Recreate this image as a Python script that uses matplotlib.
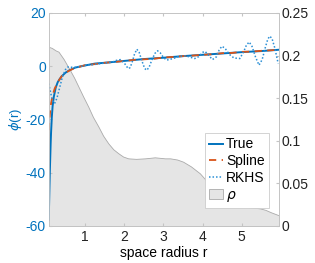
import matplotlib
matplotlib.use("Agg")
import matplotlib.pyplot as plt
from matplotlib.patches import Patch
from matplotlib.lines import Line2D

plt.rcParams['font.family'] = ['Liberation Sans', 'DejaVu Sans']
plt.rcParams['axes.unicode_minus'] = False
plt.rcParams['mathtext.fontset'] = 'dejavusans'

# rho (right axis)
rho_r = [0.065, 0.15, 0.25, 0.32, 0.45, 0.62, 0.72, 0.83, 0.95, 1.08, 1.2, 1.34, 1.46, 1.59,
         1.72, 1.85, 1.97, 2.10, 2.3, 2.53, 2.78, 3.04, 3.17, 3.35, 3.50, 3.7, 3.93, 4.08,
         4.23, 4.4, 4.6, 4.8, 5.0, 5.2, 5.46, 5.6, 5.75, 5.95]
rho_v = [0.2104, 0.209, 0.206, 0.2046, 0.196, 0.1824, 0.174, 0.1635, 0.152, 0.1401, 0.128,
         0.1166, 0.106, 0.0971, 0.090, 0.0853, 0.0815, 0.0794, 0.0788, 0.0794, 0.0806,
         0.0794, 0.0794, 0.078, 0.0755, 0.070, 0.0618, 0.054, 0.0462, 0.039, 0.032, 0.027,
         0.024, 0.022, 0.0207, 0.019, 0.016, 0.0125]

# True phi
true_r = [0.07, 0.08, 0.09, 0.10, 0.11, 0.12, 0.13, 0.15, 0.17, 0.20, 0.25, 0.30, 0.35, 0.40,
          0.50, 0.60, 0.75, 1.0, 1.25, 1.5, 2.0, 2.5, 3.0, 3.5, 4.0, 4.5, 5.0, 5.5, 5.95]
true_v = [-58, -52, -45, -39, -34, -29, -25, -19, -15, -11.5, -8, -6, -4.8, -3.8,
          -2.4, -1.5, -0.5, 0.3, 1.0, 1.3, 2.0, 2.7, 3.2, 3.8, 4.3, 4.8, 5.3, 5.7, 6.2]

# Spline estimate
spl_r = [0.07, 0.10, 0.13, 0.17, 0.22, 0.30, 0.40, 0.50, 0.60, 0.75, 1.0, 1.25, 1.5, 1.75,
         2.0, 2.25, 2.5, 2.75, 3.0, 3.25, 3.5, 3.75, 4.0, 4.25, 4.5, 4.75, 5.0, 5.25, 5.5, 5.75, 5.95]
spl_v = [-24, -18, -14, -11, -8.5, -6, -3.8, -2.5, -1.6, -0.6, 0.4, 0.8, 1.3, 1.6,
         2.0, 2.4, 2.6, 2.8, 3.3, 3.5, 3.8, 4.0, 4.3, 4.5, 4.9, 5.0, 5.4, 5.5, 5.8, 6.0, 6.2]

# RKHS estimate
rk_r = [0.07, 0.12, 0.17, 0.22, 0.28, 0.35, 0.42, 0.50, 0.56, 0.62, 0.70, 0.80, 0.90, 1.0,
        1.1, 1.2, 1.3, 1.4, 1.5, 1.6, 1.7, 1.8, 1.9, 2.0, 2.1, 2.15, 2.2, 2.26, 2.32, 2.38,
        2.45, 2.52, 2.57, 2.63, 2.7, 2.78, 2.85, 2.92, 3.0, 3.08, 3.17, 3.29, 3.4, 3.5,
        3.6, 3.68, 3.8, 3.9, 4.0, 4.06, 4.15, 4.25, 4.35, 4.42, 4.49, 4.57, 4.68, 4.8,
        4.95, 5.05, 5.12, 5.19, 5.26, 5.35, 5.44, 5.52, 5.6, 5.66, 5.71, 5.77, 5.84, 5.9, 5.93]
rk_v = [-6.5, -10, -13, -14, -12, -8, -4, -1.2, -0.3, -0.3, -0.5, -0.3, 0.0, 0.3,
        0.5, 0.6, 0.8, 1.0, 1.2, 1.4, 1.6, 2.2, 2.5, 1.2, -0.9, -0.5, 1.5, 4.5, 6.4, 5.2,
        2.0, -0.8, -1.5, -0.5, 2.2, 4.8, 5.8, 5.0, 3.3, 2.3, 2.6, 3.1, 3.7, 3.9,
        3.8, 3.4, 2.9, 3.6, 5.2, 5.6, 4.2, 2.5, 3.5, 6.0, 7.5, 6.8, 4.5, 3.1,
        2.9, 5.5, 8.0, 9.1, 7.5, 3.5, 0.4, 2.5, 7.0, 10.0, 11.3, 10.5, 7.0, 3.0, 1.0]

xticks = [1, 2, 3, 4, 5]
yticks_left = [-60, -40, -20, 0, 20]
yticks_right = [0, 0.05, 0.1, 0.15, 0.2, 0.25]
yticklabels_right = ['0', '0.05', '0.1', '0.15', '0.2', '0.25']

blue = '#0072BD'
orange = '#D95319'
dotc = '#2a8fd6'
spine_c = '#c4c4c4'
fs = 10

fig = plt.figure(figsize=(3.15, 2.63), dpi=100)
ax = fig.add_axes([0.1546, 0.1407, 0.7311, 0.8099])
ax2 = ax.twinx()

ax2.fill_between(rho_r, 0, rho_v, facecolor='#e5e5e5', edgecolor='#aaaaaa', linewidth=0.6)
ax2.set_ylim(0, 0.25)
ax2.set_yticks(yticks_right)
ax2.set_yticklabels(yticklabels_right)

ax.set_zorder(ax2.get_zorder() + 1)
ax.patch.set_visible(False)

ax.plot(true_r, true_v, color=blue, lw=1.4, solid_capstyle='butt')
ax.plot(spl_r, spl_v, color=orange, lw=1.3, ls=(0, (4, 3)))
ax.plot(rk_r, rk_v, color=dotc, lw=1.1, ls=(0, (1, 1.3)))

ax.set_xlim(0.07, 5.95)
ax.set_ylim(-60, 20)
ax.set_xticks(xticks)
ax.set_yticks(yticks_left)
ax.set_xlabel('space radius r', fontsize=fs, labelpad=1)
ax.set_ylabel(r'$\phi$(r)', color=blue, fontsize=fs - 0.5, labelpad=1)

for a in (ax, ax2):
    for s in a.spines.values():
        s.set_color(spine_c)
        s.set_linewidth(0.6)
ax.tick_params(axis='x', direction='in', length=2.5, color=spine_c, labelsize=fs, pad=3,
               top=True, labelcolor='#222222')
ax.tick_params(axis='y', direction='in', length=2.5, color=spine_c, labelsize=fs, pad=2,
               labelcolor=blue)
ax2.tick_params(axis='y', direction='in', length=2.5, color=spine_c, labelsize=fs, pad=2,
                labelcolor='#222222')

handles = [Line2D([], [], color=blue, lw=1.4),
           Line2D([], [], color=orange, lw=1.3, ls=(0, (4, 3))),
           Line2D([], [], color=dotc, lw=1.1, ls=(0, (1, 1.3))),
           Patch(facecolor='#e5e5e5', edgecolor='#aaaaaa', linewidth=0.6)]
labels = ['True', 'Spline', 'RKHS', r'$\rho$']
leg = ax.legend(handles, labels, loc='lower right', bbox_to_anchor=(0.955, 0.085),
                fontsize=fs, handlelength=1.0, handletextpad=0.2, borderpad=0.3,
                labelspacing=0.2, borderaxespad=0, fancybox=False, framealpha=1)
leg.get_frame().set_edgecolor('#cccccc')
leg.get_frame().set_linewidth(0.6)

fig.savefig('out.png', dpi=100)
